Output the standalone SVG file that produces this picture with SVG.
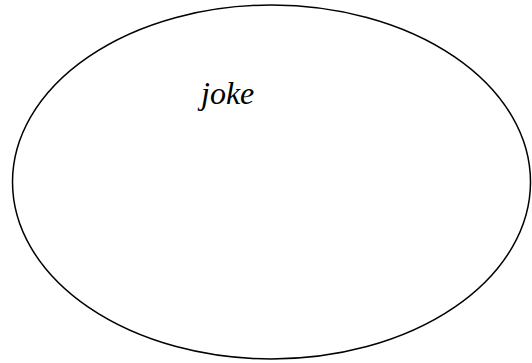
<svg xmlns="http://www.w3.org/2000/svg" width="532" height="363" viewBox="0 0 532 363">
<style>
.shape{fill:none;stroke:#000;stroke-width:1.5}
.lbl{font-family:"Liberation Serif","Times New Roman",serif;font-style:italic;font-size:32px;fill:#000}
</style>
<rect width="532" height="363" fill="#fff"/>
<g id="joke">
<ellipse class="shape" cx="271.5" cy="182" rx="259" ry="177"/>
<text class="lbl" x="201" y="104">joke</text>
</g>
</svg>
